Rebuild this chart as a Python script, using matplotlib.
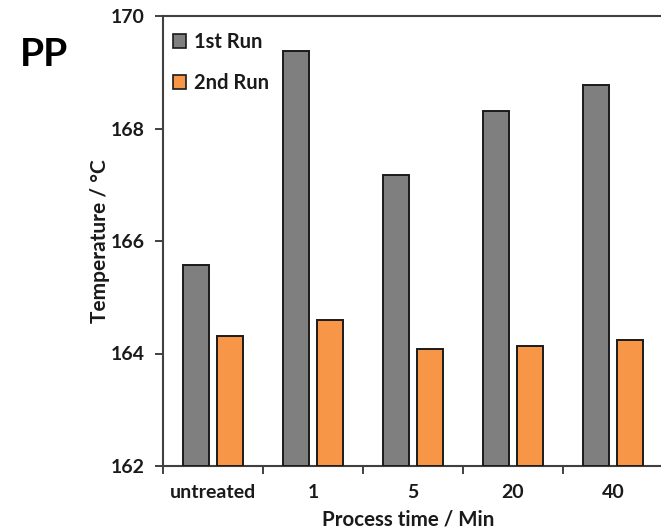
import numpy as np
import matplotlib.pyplot as plt
from matplotlib.patches import Patch

categories = ['untreated', '1', '5', '20', '40']
run1 = [165.57, 169.37, 167.17, 168.31, 168.77]
run2 = [164.32, 164.60, 164.08, 164.13, 164.24]

plt.rcParams['font.family'] = ['Lato', 'DejaVu Sans']
plt.rcParams['font.weight'] = 'bold'

fig = plt.figure(figsize=(6.61, 5.30), dpi=100)
ax = fig.add_axes([163 / 661, 64 / 530, 500 / 661, 450 / 530])

x = np.arange(len(categories))
w = 0.26
ax.bar(x - 0.17, np.array(run1) - 162, w, bottom=162, color='#7f7f7f',
       edgecolor='#1a1a1a', linewidth=1.4, zorder=3)
ax.bar(x + 0.17, np.array(run2) - 162, w, bottom=162, color='#f79646',
       edgecolor='#1a1a1a', linewidth=1.4, zorder=3)

ax.set_ylim(162, 170)
ax.set_xlim(-0.5, 4.5)
ax.set_yticks([162, 164, 166, 168, 170])
ax.set_xticks(np.arange(-0.5, 4.5, 1.0))
ax.set_xticklabels([])
ax.set_xticks(x, minor=True)
ax.set_xticklabels(categories, minor=True)
ax.tick_params(axis='x', which='minor', length=0, pad=13, labelsize=14, labelcolor='#1a1a1a')
ax.tick_params(axis='x', which='major', direction='out', length=6, width=1.3, color='#333333')
ax.tick_params(axis='y', direction='out', length=6, width=1.3, color='#333333', labelsize=14,
               pad=7, labelcolor='#1a1a1a')

for side in ['left', 'bottom', 'top']:
    ax.spines[side].set_linewidth(1.5)
    ax.spines[side].set_color('#404040')
ax.spines['right'].set_visible(False)

ax.set_xlabel('Process time / Min', fontsize=14.8, fontweight='bold', color='#1a1a1a', va='center')
ax.set_ylabel('Temperature / °C', fontsize=15, fontweight='bold', color='#1a1a1a', va='center')
ax.xaxis.set_label_coords(0.49, -0.12)
ax.yaxis.set_label_coords(-0.126, 0.5)

handles = [Patch(facecolor='#7f7f7f', edgecolor='#1a1a1a', linewidth=1.2, label='1st Run'),
           Patch(facecolor='#f79646', edgecolor='#1a1a1a', linewidth=1.2, label='2nd Run')]
leg = ax.legend(handles=handles, loc='upper left', bbox_to_anchor=(-0.012, 1.0), frameon=False,
                fontsize=14.5, handlelength=0.65, handleheight=0.65, handletextpad=0.4,
                labelspacing=1.05, borderaxespad=0.4)
for t in leg.get_texts():
    t.set_color('#1a1a1a')

fig.text(20 / 661, 1 - 55 / 530, 'PP', fontsize=28, fontweight='bold', va='center', ha='left')

fig.savefig('out.png', dpi=100)
